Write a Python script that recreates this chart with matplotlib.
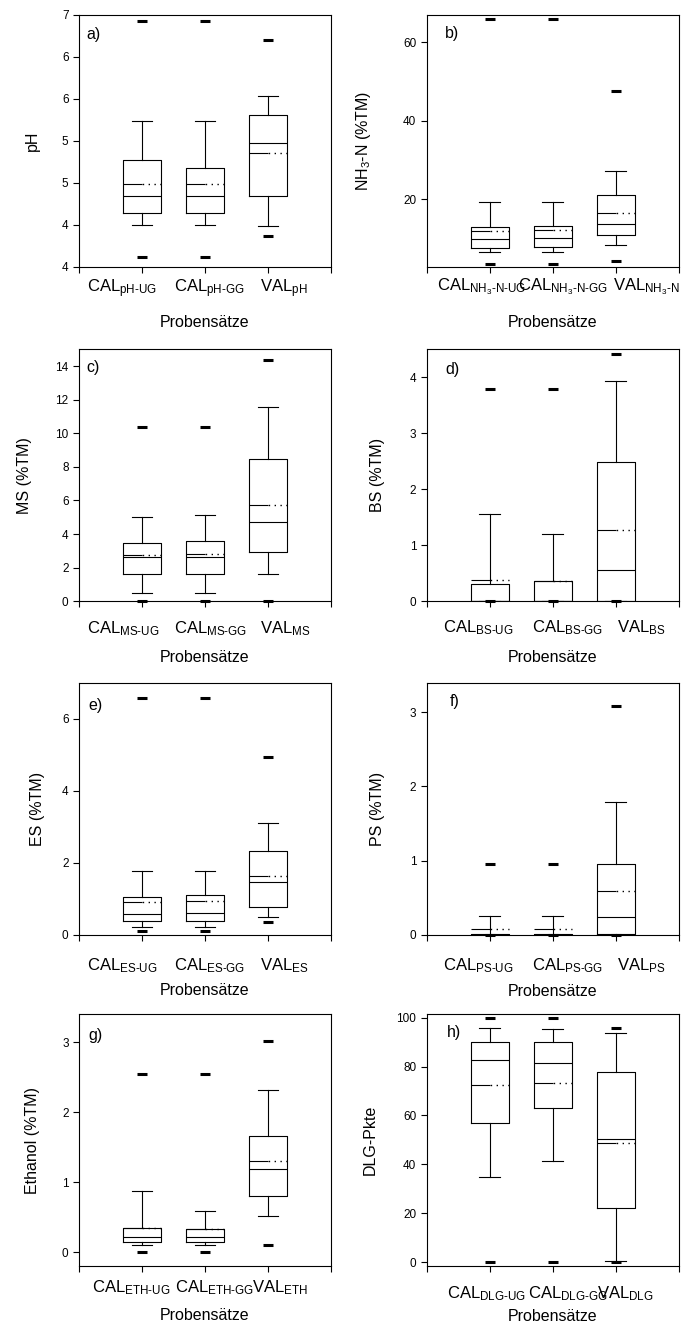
import matplotlib
matplotlib.use('Agg')
import matplotlib.pyplot as plt
import matplotlib.transforms as mtransforms

plt.rcParams['font.family'] = ['Liberation Sans', 'DejaVu Sans']
plt.rcParams['mathtext.fontset'] = 'custom'
plt.rcParams['mathtext.rm'] = 'Liberation Sans'
plt.rcParams['mathtext.it'] = 'Liberation Sans:italic'
plt.rcParams['mathtext.bf'] = 'Liberation Sans:bold'
plt.rcParams['mathtext.default'] = 'regular'

# five-number summaries per group: [whisker low, q1, median, q3, whisker high]
ph_five = [[4.50, 4.635, 4.84, 5.27, 5.73], [4.50, 4.635, 4.84, 5.18, 5.73], [4.48, 4.845, 5.47, 5.81, 6.03]]
ph_mean = [4.99, 4.98, 5.35]
ph_out = [[4.12, 6.93], [4.12, 6.93], [4.37, 6.70]]

nh_five = [[6.56, 7.57, 9.86, 13.07, 19.24], [6.56, 7.83, 10.19, 13.24, 19.24], [8.42, 10.87, 13.66, 21.27, 27.27]]
nh_mean = [12.05, 12.22, 16.62]
nh_out = [[3.6, 65.8], [3.6, 65.8], [4.45, 47.7]]

ms_five = [[0.50, 1.63, 2.62, 3.47, 5.00], [0.50, 1.63, 2.62, 3.61, 5.12], [1.61, 2.93, 4.72, 8.47, 11.56]]
ms_mean = [2.78, 2.84, 5.75]
ms_out = [[0.0, 10.39], [0.0, 10.39], [0.04, 14.34]]

bs_five = [[0.0, 0.0, 0.0, 0.31, 1.56], [0.0, 0.0, 0.0, 0.37, 1.21], [0.0, 0.0, 0.55, 2.48, 3.94]]
bs_mean = [0.38, 0.36, 1.28]
bs_out = [[0.0, 3.79], [0.0, 3.79], [0.0, 4.41]]

es_five = [[0.22, 0.38, 0.58, 1.04, 1.765], [0.22, 0.39, 0.60, 1.10, 1.78], [0.50, 0.78, 1.47, 2.31, 3.10]]
es_mean = [0.91, 0.94, 1.62]
es_out = [[0.09, 6.58], [0.09, 6.58], [0.35, 4.94]]

ps_five = [[0.0, 0.0, 0.0, 0.015, 0.25], [0.0, 0.0, 0.0, 0.015, 0.25], [0.0, 0.01, 0.24, 0.95, 1.79]]
ps_mean = [0.07, 0.07, 0.59]
ps_out = [[0.0, 0.95], [0.0, 0.95], [0.0, 3.08]]

eth_five = [[0.10, 0.14, 0.21, 0.34, 0.875], [0.10, 0.14, 0.21, 0.33, 0.585], [0.52, 0.80, 1.19, 1.655, 2.32]]
eth_mean = [0.34, 0.33, 1.30]
eth_out = [[0.0, 2.54], [0.0, 2.54], [0.10, 3.02]]

dlg_five = [[34.8, 56.9, 82.9, 89.9, 95.9], [41.4, 63.0, 81.5, 89.9, 95.4], [0.4, 22.2, 50.5, 77.7, 93.6]]
dlg_mean = [72.4, 73.3, 48.7]
dlg_out = [[0.0, 100.0], [0.0, 100.0], [0.0, 95.9]]

# tick labels and axis texts
ph_names = [r'CAL$_{pH\text{-}UG}$', r'CAL$_{pH\text{-}GG}$', r'VAL$_{pH}$']
nh_names = [r'CAL$_{NH_3\text{-}N\text{-}UG}$', r'CAL$_{NH_3\text{-}N\text{-}GG}$', r'VAL$_{NH_3\text{-}N}$']
ms_names = [r'CAL$_{MS\text{-}UG}$', r'CAL$_{MS\text{-}GG}$', r'VAL$_{MS}$']
bs_names = [r'CAL$_{BS\text{-}UG}$', r'CAL$_{BS\text{-}GG}$', r'VAL$_{BS}$']
es_names = [r'CAL$_{ES\text{-}UG}$', r'CAL$_{ES\text{-}GG}$', r'VAL$_{ES}$']
ps_names = [r'CAL$_{PS\text{-}UG}$', r'CAL$_{PS\text{-}GG}$', r'VAL$_{PS}$']
eth_names = [r'CAL$_{ETH\text{-}UG}$', r'CAL$_{ETH\text{-}GG}$', r'VAL$_{ETH}$']
dlg_names = [r'CAL$_{DLG\text{-}UG}$', r'CAL$_{DLG\text{-}GG}$', r'VAL$_{DLG}$']

ph_ticks = [4, 4.5, 5, 5.5, 6, 6.5, 7]
ph_ticklabels = ['4', '4', '5', '5', '6', '6', '7']   # as printed in the original

panels = [
    # (letter, ylabel, five, mean, out, names, ylim, yticks, yticklabels)
    ('a)', 'pH', ph_five, ph_mean, ph_out, ph_names, (4, 7), ph_ticks, ph_ticklabels),
    ('b)', r'NH$_3$-N (%TM)', nh_five, nh_mean, nh_out, nh_names, (2.9, 67), [20, 40, 60], None),
    ('c)', 'MS (%TM)', ms_five, ms_mean, ms_out, ms_names, (0, 15), [0, 2, 4, 6, 8, 10, 12, 14], None),
    ('d)', 'BS (%TM)', bs_five, bs_mean, bs_out, bs_names, (0, 4.5), [0, 1, 2, 3, 4], None),
    ('e)', 'ES (%TM)', es_five, es_mean, es_out, es_names, (0, 7), [0, 2, 4, 6], None),
    ('f)', 'PS (%TM)', ps_five, ps_mean, ps_out, ps_names, (0, 3.4), [0, 1, 2, 3], None),
    ('g)', 'Ethanol (%TM)', eth_five, eth_mean, eth_out, eth_names, (-0.2, 3.4), [0, 1, 2, 3], None),
    ('h)', 'DLG-Pkte', dlg_five, dlg_mean, dlg_out, dlg_names, (-1.6, 101.5), [0, 20, 40, 60, 80, 100], None),
]

# layout (picked by eye from the reference)
col_left = [79 / 681, 426.7 / 681]
row_bottom = [0.7987, 0.5462, 0.2946, 0.0445]
ax_w, ax_h = 252 / 681, 252 / 1325
ylab_x = [-0.155, -0.212, -0.188, -0.165, -0.135, -0.165, -0.155, -0.196]
xlab_y = [-0.192, -0.19, -0.192, -0.192, -0.192, -0.197, -0.165, -0.172]
tick_top = [-0.044, -0.040, -0.070, -0.066, -0.086, -0.085, -0.050, -0.073]
tick_left = [[0.132, 1.508, 2.873], [0.159, 1.444, 2.963], [0.132, 1.508, 2.873], [0.265, 1.667, 3.016],
             [0.132, 1.508, 2.873], [0.265, 1.667, 3.016], [0.207, 1.52, 2.74], [0.328, 1.614, 2.698]]
letter_pos = [(0.028, 0.951), (0.073, 0.956), (0.028, 0.958), (0.073, 0.951),
              (0.036, 0.939), (0.092, 0.953), (0.038, 0.943), (0.082, 0.956)]

positions = [1, 2, 3]
lw = 0.8

fig = plt.figure(figsize=(6.81, 13.25), dpi=100)

for i, (letter, ylabel, five, means, outs, names, ylim, yticks, yticklabels) in enumerate(panels):
    ax = fig.add_axes([col_left[i % 2], row_bottom[i // 2], ax_w, ax_h])

    stats = []
    for f, m, o in zip(five, means, outs):
        stats.append(dict(whislo=f[0], q1=f[1], med=f[2], q3=f[3], whishi=f[4], mean=m, fliers=o))

    res = ax.bxp(stats, positions=positions, widths=0.6, capwidths=0.33, showfliers=True,
                 manage_ticks=False,
                 boxprops=dict(color='k', lw=lw),
                 whiskerprops=dict(color='k', lw=lw),
                 capprops=dict(color='k', lw=lw),
                 medianprops=dict(color='k', lw=lw),
                 flierprops=dict(marker='_', markersize=7, markeredgewidth=2.2,
                                 markeredgecolor='k', linestyle='none'))
    for fl in res['fliers']:
        fl.set_clip_on(False)

    # mean: solid on the left half, dotted on the right half
    for p, m in zip(positions, means):
        ax.plot([p - 0.3, p], [m, m], color='k', lw=lw, solid_capstyle='butt')
        ax.plot([p, p + 0.3], [m, m], color='k', lw=1.0, linestyle=(4.0, (1, 3.2)))

    ax.set_xlim(0, 4)
    ax.set_ylim(*ylim)
    ax.set_xticks([0, 1, 2, 3, 4])
    ax.set_xticklabels([])
    ax.set_yticks(yticks)
    if yticklabels is not None:
        ax.set_yticklabels(yticklabels)
    ax.tick_params(axis='both', direction='out', length=4, width=lw, labelsize=8.5, pad=3.5)
    for sp in ax.spines.values():
        sp.set_linewidth(lw)

    trans = mtransforms.blended_transform_factory(ax.transData, ax.transAxes)
    for x0, name in zip(tick_left[i], names):
        ax.text(x0, tick_top[i], name, transform=trans, ha='left', va='top', fontsize=12, clip_on=False)

    ax.set_ylabel(ylabel, fontsize=11.5)
    ax.yaxis.set_label_coords(ylab_x[i], 0.5)
    ax.set_xlabel('Probensätze', fontsize=11.5, va='top')
    ax.xaxis.set_label_coords(0.5, xlab_y[i])

    ax.text(letter_pos[i][0], letter_pos[i][1], letter, transform=ax.transAxes,
            ha='left', va='top', fontsize=11.5)

fig.savefig('out.png', dpi=100)
